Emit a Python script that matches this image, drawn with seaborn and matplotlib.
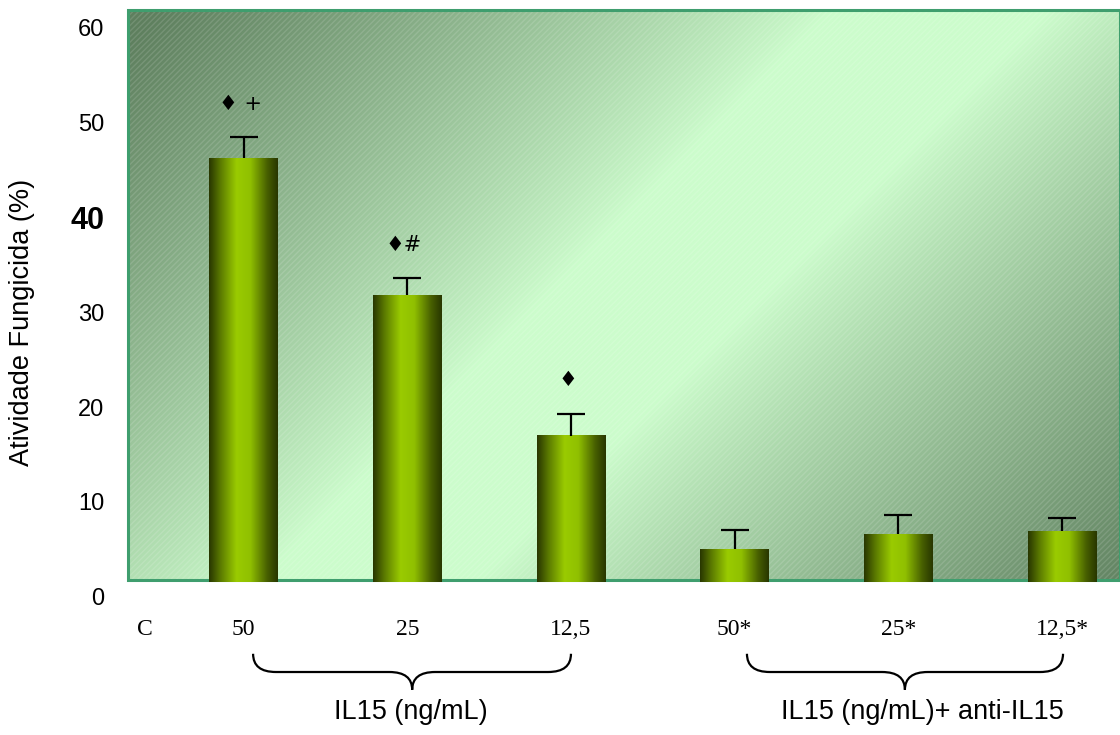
import numpy as np
import pandas as pd
import matplotlib
matplotlib.use("Agg")
import matplotlib.pyplot as plt
import seaborn as sns
from matplotlib.colors import LinearSegmentedColormap
from matplotlib.patches import Rectangle, PathPatch
from matplotlib.path import Path
from matplotlib.transforms import blended_transform_factory

# dados
groups = ["50", "25", "12,5", "50*", "25*", "12,5*"]
activity = [46.2, 31.8, 17.0, 5.0, 6.6, 6.9]
errors = [2.2, 1.8, 2.3, 2.0, 2.0, 1.4]
marks = ["\u2666 +", "\u2666#", "\u2666", "", "", ""]
y_ticks = [0, 10, 20, 30, 40, 50, 60]
brace_labels = ["IL15 (ng/mL)", "IL15 (ng/mL)+ anti-IL15"]

df = pd.DataFrame({"grupo": groups, "atividade": activity})

sns.set_style("white")
plt.rcParams["font.family"] = ["Liberation Sans", "DejaVu Sans"]
plt.rcParams["text.color"] = "black"
plt.rcParams["xtick.color"] = "black"
plt.rcParams["ytick.color"] = "black"
plt.rcParams["axes.labelcolor"] = "black"

fig = plt.figure(figsize=(11.2, 7.35), dpi=100)
ax = fig.add_axes([0.1143, 0.1878, 0.8857, 0.7986])
ax.patch.set_alpha(0)
for s in ax.spines.values():
    s.set_visible(False)

xlim = (-0.706, 5.354)
floor = 1.8
top = 61.8

# fundo com degrade diagonal
yy, xx = np.mgrid[0:1:300j, 0:1:600j]
d = (xx * 992 + yy * 570) / (992 + 570)
t = np.clip((np.abs(d - 0.52) - 0.07) / 0.43, 0, 1) ** 0.9
light = np.array([0.80, 0.99, 0.80])
dark = np.array([0.37, 0.50, 0.37])
bg = light + (dark - light) * t[..., None]
ax.imshow(bg, extent=(xlim[0], xlim[1], floor, top), aspect="auto",
          zorder=0, interpolation="bilinear")
ax.add_patch(Rectangle((xlim[0], floor), xlim[1] - xlim[0], top - floor,
                       fill=False, hatch="//////", edgecolor=(1, 1, 1, 0.13),
                       lw=0, zorder=0.5))
ax.add_patch(Rectangle((xlim[0], floor), xlim[1] - xlim[0], top - floor,
                       fill=False, edgecolor="#3f9e6e", lw=2.2, zorder=1,
                       clip_on=False))

# barras
sns.barplot(data=df, x="grupo", y="atividade", order=groups, width=0.42,
            color="#99cc00", errorbar=None, ax=ax, zorder=2)

bar_cmap = LinearSegmentedColormap.from_list(
    "cil", [(0, "#283600"), (0.18, "#5f7f00"), (0.4, "#9acb00"),
            (0.6, "#90c000"), (0.85, "#465e00"), (1, "#283600")])
grad = np.linspace(0, 1, 256)[None, :]
centers = []
for p in ax.containers[0]:
    x0 = p.get_x()
    w = p.get_width()
    h = p.get_height()
    centers.append(x0 + w / 2)
    ax.imshow(grad, cmap=bar_cmap, extent=(x0, x0 + w, 1.6, h),
              aspect="auto", zorder=3, interpolation="bilinear")
    p.set_visible(False)

eb = ax.errorbar(centers, activity, yerr=[np.zeros(len(errors)), errors],
                 fmt="none", ecolor="black", elinewidth=1.6, capsize=10,
                 capthick=1.6, zorder=4)
# so a barra superior
eb[1][0].set_visible(False)

for c, v, e, m in zip(centers, activity, errors, marks):
    if m:
        ax.text(c - 0.02, v + e + 3.5, m, ha="center", va="center",
                fontsize=15, family=["DejaVu Sans"], zorder=5)

ax.set_xlim(*xlim)
ax.set_ylim(0, top)

ax.set_xticks([-0.6] + centers)
ax.set_xticklabels(["C"] + groups, fontsize=17, family="Liberation Serif")
ax.tick_params(axis="x", length=0, pad=16)
ax.set_xlabel("")

ax.set_yticks(y_ticks)
ax.set_yticklabels([str(v) for v in y_ticks], fontsize=17)
for lab in ax.get_yticklabels():
    if lab.get_text() == "40":
        lab.set_fontweight("bold")
        lab.set_fontsize(22)
ax.tick_params(axis="y", length=0, pad=17)
ax.set_ylabel("Atividade Fungicida (%)", fontsize=19.5)
ax.yaxis.set_label_coords(-0.094, 0.4685)

# chaves dos grupos
tr = blended_transform_factory(ax.transData, fig.transFigure)


def brace(x0, x1, xm, ytop=0.1105, ymid=0.0857, ytip=0.0615, r=0.14):
    verts = [(x0, ytop), (x0, ymid), (x0 + r, ymid),
             (xm - r, ymid), (xm, ymid), (xm, ytip),
             (xm, ymid), (xm + r, ymid),
             (x1 - r, ymid), (x1, ymid), (x1, ytop)]
    codes = [Path.MOVETO, Path.CURVE3, Path.CURVE3,
             Path.LINETO, Path.CURVE3, Path.CURVE3,
             Path.CURVE3, Path.CURVE3,
             Path.LINETO, Path.CURVE3, Path.CURVE3]
    ax.add_patch(PathPatch(Path(verts, codes), transform=tr, fill=False,
                           lw=1.6, edgecolor="black", clip_on=False))


brace(0.058, 2.0, 1.03)
brace(3.075, 5.006, 4.04)

ax.text(1.02, 0.031, brace_labels[0], transform=tr, ha="center",
        va="center", fontsize=19.5)
ax.text(4.145, 0.031, brace_labels[1], transform=tr, ha="center",
        va="center", fontsize=19.5)

fig.savefig("out.png", dpi=100)
